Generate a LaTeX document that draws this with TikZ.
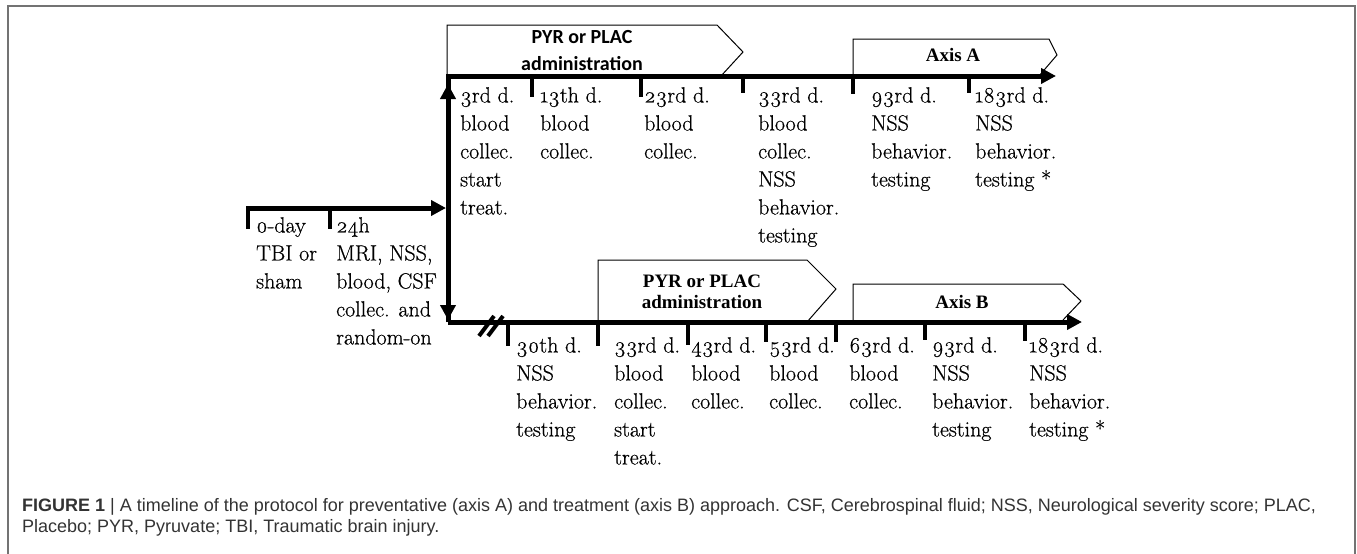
\documentclass[tikz,border=0pt]{standalone}
\usepackage{fontspec}
\setmainfont{Latin Modern Roman}[Numbers=OldStyle]
\newfontfamily\lblfont{Latin Modern Roman}[Numbers=OldStyle, FakeBold=0.5]
\newfontfamily\carl{Carlito}
\newfontfamily\libser{Liberation Serif}
\newfontfamily\libsans{Liberation Sans}
\usetikzlibrary{arrows.meta}
\begin{document}
\begin{tikzpicture}[x=1pt,y=-1pt,
  tl/.style={line width=5pt},
  tk/.style={line width=4.5pt},
  tip/.style={-{Triangle[length=15pt,width=15pt]}},
  lbl/.style={anchor=north west, align=left, inner sep=0pt, font=\lblfont\fontsize{22}{28}\selectfont},
  bx/.style={draw, line width=1pt, fill=white},
  btxtA/.style={align=center, inner sep=0pt, font=\carl\bfseries\fontsize{20}{27}\selectfont},
  btxtB/.style={align=center, inner sep=0pt, font=\libser\bfseries\fontsize{19}{21}\selectfont},
  frame/.style={draw=black!55, line width=1.5pt},
  captxt/.style={anchor=base west, inner sep=0pt, font=\libsans\fontsize{18}{20}\selectfont, text=black!80}
]
\useasboundingbox (0,0) rectangle (1357,554);
% frame
\draw[frame] (8,554) -- (8,6) -- (1355,6) -- (1355,554);

% phase boxes
\draw[bx] (447,76) -- (447,25) -- (717,25) -- (743,52) -- (721,76);
\node[btxtA] (pA) at (582,51) {PYR or PLAC\\administration};
\draw[bx] (853,76) -- (853,39) -- (1049,39) -- (1057,55) -- (1039,76);
\node[btxtB] (tA) at (953,55) {Axis A};
\draw[bx] (598,322) -- (598,260) -- (807,260) -- (836,289) -- (807,322);
\node[btxtB] (pB) at (702,292) {PYR or PLAC\\administration};
\draw[bx] (853,322) -- (853,284) -- (1063,284) -- (1081,301) -- (1063,320);
\node[btxtB] (tB) at (962,302) {Axis B};

% coordinates of the timelines
\coordinate (L0) at (248,208);
\coordinate (J) at (448,208);
\coordinate (TA) at (448,76);
\coordinate (TAend) at (1056,76);
\coordinate (BB) at (448,322);
\coordinate (BBend) at (1082,322);
\coordinate (upTip) at (448,84);
\coordinate (dnTip) at (448,320);
\coordinate (jTip) at (446,208);

% timelines
\draw[tl,tip] (L0) -- (jTip);
\draw[tl,tip,line join=miter] (BB) -- (TA) -- (TAend);
\draw[tl,tip] (BB) -- (BBend);
\draw[tl,tip] (J) -- (upTip);
\draw[tl,tip] (J) -- (dnTip);

% break mark
\draw[line width=4pt] (479,336) -- (494,316);
\draw[line width=4pt] (488,336) -- (503,316);

% ticks left
\draw[tk] (248,206) -- (248,229);
\draw[tk] (330,206) -- (330,229);
% ticks top
\draw[tk] (532,76) -- (532,97);
\draw[tk] (641,76) -- (641,97);
\draw[tk] (743,76) -- (743,93);
\draw[tk] (853,76) -- (853,94);
\draw[tk] (969,76) -- (969,93);
% ticks bottom
\draw[tk] (508,322) -- (508,346);
\draw[tk] (598,322) -- (598,346);
\draw[tk] (688,322) -- (688,345);
\draw[tk] (766,322) -- (766,342);
\draw[tk] (836,322) -- (836,342);
\draw[tk] (925,322) -- (925,340);
\draw[tk] (1025,322) -- (1025,341);

% labels left
\node[lbl] (l0) at (256,217) {0-day\\TBI or\\sham};
\node[lbl] (l24) at (336,217) {24h\\MRI, NSS,\\blood, CSF\\collec. and\\random-on};
% labels top
\node[lbl] (a3) at (460,87) {3rd d.\\blood\\collec.\\start\\treat.};
\node[lbl] (a13) at (540,87) {13th d.\\blood\\collec.};
\node[lbl] (a23) at (644,87) {23rd d.\\blood\\collec.};
\node[lbl] (a33) at (758,87) {33rd d.\\blood\\collec.\\NSS\\behavior.\\testing};
\node[lbl] (a93) at (871,87) {93rd d.\\NSS\\behavior.\\testing};
\node[lbl] (a183) at (975,87) {183rd d.\\NSS\\behavior.\\testing *};
% labels bottom
\node[lbl] (b30) at (516,337) {30th d.\\NSS\\behavior.\\testing};
\node[lbl] (b33) at (614,337) {33rd d.\\blood\\collec.\\start\\treat.};
\node[lbl] (b43) at (691,337) {43rd d.\\blood\\collec.};
\node[lbl] (b53) at (769,337) {53rd d.\\blood\\collec.};
\node[lbl] (b63) at (849,337) {63rd d.\\blood\\collec.};
\node[lbl] (b93) at (932,337) {93rd d.\\NSS\\behavior.\\testing};
\node[lbl] (b183) at (1029,337) {183rd d.\\NSS\\behavior.\\testing *};

% caption
\node[captxt] (cap1) at (22,511) {\textbf{FIGURE 1} | A timeline of the protocol for preventative (axis A) and treatment (axis B) approach. CSF, Cerebrospinal fluid; NSS, Neurological severity score; PLAC,};
\node[captxt] (cap2) at (22,532) {Placebo; PYR, Pyruvate; TBI, Traumatic brain injury.};
\end{tikzpicture}
\end{document}
